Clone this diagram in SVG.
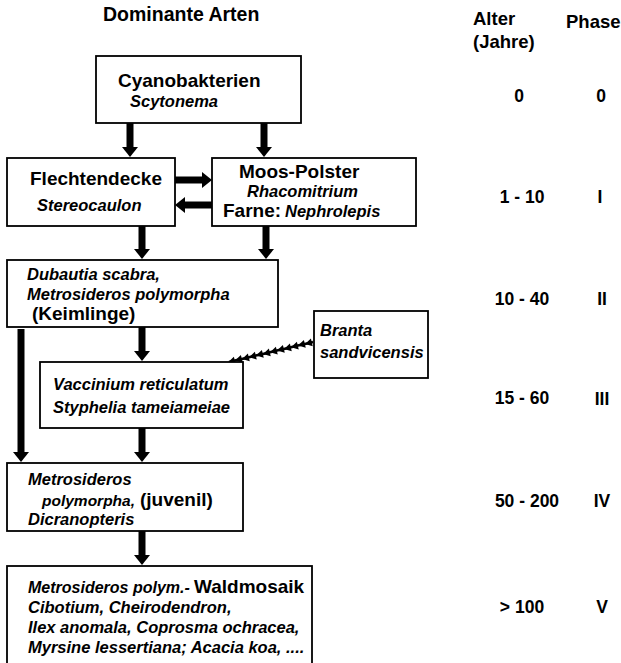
<svg xmlns="http://www.w3.org/2000/svg" width="621" height="663" viewBox="0 0 621 663">
<defs>
<marker id="ah" markerUnits="userSpaceOnUse" markerWidth="12" markerHeight="18" refX="1" refY="8" orient="auto" overflow="visible">
<path d="M0,0 L10,8 L0,16 Z" fill="#000"/>
</marker>
<marker id="sm" markerUnits="userSpaceOnUse" markerWidth="10" markerHeight="10" refX="6" refY="4" orient="auto" overflow="visible">
<path d="M0,0 L7,4 L0,8 Z" fill="#000"/>
</marker>
</defs>
<style>
text{font-family:"Liberation Sans",Arial,sans-serif;font-weight:bold;fill:#000}
.b{font-size:19px}
.i{font-size:16.5px;font-style:italic}
.v{font-size:17.5px;text-anchor:middle}
.h{font-size:18.5px}
rect{fill:#fff;stroke:#000;stroke-width:1.8}
.ar{stroke:#000;stroke-width:7;fill:none;marker-end:url(#ah)}
</style>
<rect x="0" y="0" width="621" height="663" style="fill:#fff;stroke:none"/>
<g id="headers">
<text class="h" x="103" y="21" style="font-size:19.5px">Dominante Arten</text>
<text class="h" x="473" y="25">Alter</text>
<text class="h" x="473" y="48">(Jahre)</text>
<text class="h" x="566" y="28">Phase</text>
</g>
<g id="ages">
<text class="v" x="519" y="102">0</text>
<text class="v" x="522" y="203">1 - 10</text>
<text class="v" x="522" y="305">10 - 40</text>
<text class="v" x="522" y="404">15 - 60</text>
<text class="v" x="527" y="507">50 - 200</text>
<text class="v" x="522" y="613">&gt; 100</text>
</g>
<g id="phases">
<text class="v" x="601" y="102">0</text>
<text class="v" x="600" y="203">I</text>
<text class="v" x="602" y="305">II</text>
<text class="v" x="602" y="405">III</text>
<text class="v" x="602" y="507">IV</text>
<text class="v" x="602" y="613">V</text>
</g>
<g id="connectors">
<line class="ar" x1="130" y1="123" x2="130" y2="148"/>
<line class="ar" x1="264" y1="123" x2="264" y2="148"/>
<line class="ar" x1="175" y1="180" x2="203" y2="180"/>
<line class="ar" x1="212" y1="205" x2="184" y2="205"/>
<line class="ar" x1="142" y1="226" x2="142" y2="250"/>
<line class="ar" x1="266" y1="226" x2="266" y2="250"/>
<line class="ar" x1="142" y1="327" x2="142" y2="352"/>
<line class="ar" x1="21" y1="329" x2="21" y2="453"/>
<line class="ar" x1="142" y1="428" x2="142" y2="453"/>
<line class="ar" x1="142" y1="531" x2="142" y2="556"/>
<polyline points="313,342 306,343.67 299,345.33 292,347 285,348.67 278,350.33 271,352 264,353.67 257,355.33 250,357 243,358.67 236,360.33 229,362" fill="none" stroke="#000" stroke-width="2.5" marker-mid="url(#sm)" marker-end="url(#sm)"/>
</g>
<g id="cyanobakterien">
<rect x="96" y="56" width="205" height="67"/>
<text class="b" x="118" y="87">Cyanobakterien</text>
<text class="i" x="130" y="107">Scytonema</text>
</g>
<g id="flechtendecke">
<rect x="7" y="158" width="168" height="68"/>
<text class="b" x="30" y="185">Flechtendecke</text>
<text class="i" x="37" y="211">Stereocaulon</text>
</g>
<g id="moos">
<rect x="212" y="158" width="204" height="68"/>
<text class="b" x="239" y="178">Moos-Polster</text>
<text class="i" x="247" y="197">Rhacomitrium</text>
<text x="223" y="217"><tspan class="b">Farne:</tspan><tspan class="i" x="285">Nephrolepis</tspan></text>
</g>
<g id="dubautia">
<rect x="7" y="260" width="271" height="67"/>
<text class="i" x="27" y="280">Dubautia scabra,</text>
<text class="i" x="27" y="300">Metrosideros polymorpha</text>
<text class="b" x="32" y="320">(Keimlinge)</text>
</g>
<g id="branta">
<rect x="314" y="311" width="114" height="67"/>
<text class="i" x="320" y="336">Branta</text>
<text class="i" x="320" y="358">sandvicensis</text>
</g>
<g id="vaccinium">
<rect x="40" y="362" width="203" height="66"/>
<text class="i" x="53" y="390">Vaccinium reticulatum</text>
<text class="i" x="53" y="413">Styphelia tameiameiae</text>
</g>
<g id="metrosideros-juvenil">
<rect x="7" y="463" width="236" height="68"/>
<text class="i" x="28" y="485">Metrosideros</text>
<text x="42" y="506"><tspan class="i" style="font-size:15.5px">polymorpha,</tspan><tspan class="b" x="140">(juvenil)</tspan></text>
<text class="i" x="28" y="525">Dicranopteris</text>
</g>
<g id="waldmosaik">
<rect x="7" y="566" width="305" height="110"/>
<text x="28" y="593"><tspan class="i" style="font-size:16px">Metrosideros polym.-</tspan><tspan class="b" x="194">Waldmosaik</tspan></text>
<text class="i" x="28" y="613">Cibotium, Cheirodendron,</text>
<text class="i" x="28" y="633">Ilex anomala, Coprosma ochracea,</text>
<text class="i" x="28" y="653">Myrsine lessertiana; Acacia koa, ....</text>
</g>
</svg>
